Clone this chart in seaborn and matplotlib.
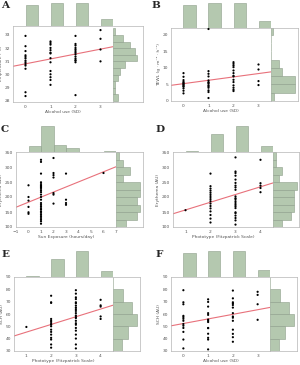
import numpy as np
import pandas as pd
import matplotlib
matplotlib.use("Agg")
import matplotlib.pyplot as plt
import seaborn as sns

# ---------------- data ----------------
# A: Temperature (°C) by alcohol use (SD)
a_alc0 = [32.93, 32.15, 31.78, 31.46, 31.34, 31.22, 31.05, 30.93, 30.80, 30.68, 30.44, 28.66, 28.37]
a_alc1 = [32.51, 32.39, 32.27, 32.02, 31.85, 31.66, 31.60, 31.24, 30.93, 30.27, 30.02, 29.80, 29.59, 29.22]
a_alc2 = [32.93, 32.32, 32.20, 32.02, 31.90, 31.78, 31.66, 31.54, 31.37, 31.22, 31.10, 31.05, 30.93, 28.44]
a_alc3 = [33.37, 32.71, 31.90, 31.00]

# B: TEWL by alcohol use (SD)
b_alc0 = [8.4, 7.3, 6.3, 5.8, 5.5, 5.3, 5.0, 4.8, 4.5, 4.3, 3.8, 3.1, 2.3]
b_alc1 = [21.7, 9.0, 8.2, 7.4, 6.2, 5.7, 5.5, 5.2, 4.7, 4.4, 4.0, 3.2, 2.7, 0.9]
b_alc2 = [11.7, 11.2, 10.7, 10.2, 9.2, 8.4, 7.6, 7.4, 6.4, 5.7, 4.7, 4.0, 3.4, 3.0]
b_alc3 = [11.0, 9.5, 6.0, 4.8]

# C: Erythema (AU) by sun exposure (hours/day)
c_sun0 = [239, 200, 188, 167, 149, 144]
c_sun1 = [324, 317, 278, 249, 243, 238, 235, 232, 227, 221, 216, 208, 200, 191,
          180, 174, 169, 163, 158, 152, 147, 141, 136, 130, 124, 119, 111]
c_sun2 = [330, 280, 273, 265, 213, 208, 178]
c_sun3 = [278, 191, 180, 174]
c_sun6 = [280]

# D: Erythema (AU) by phototype
d_pt1 = [156]
d_pt2 = [278, 236, 228, 221, 214, 207, 200, 193, 186, 178, 170, 162, 152, 140, 128, 115]
d_pt3 = [332, 285, 280, 271, 258, 247, 238, 232, 224, 202, 196, 193, 186, 180, 174,
         169, 163, 149, 146, 138, 130, 122, 108]
d_pt4 = [324, 246, 238, 230, 216]

# E: SCH (AU) by phototype
e_pt1 = [49.5]
e_pt2 = [74.8, 69.5, 69.0, 56.0, 54.5, 53.5, 52.0, 51.3, 50.0, 47.3, 45.5, 43.3, 40.7, 39.3, 35.3, 32.7]
e_pt3 = [79.3, 76.5, 73.5, 72.1, 69.5, 68.7, 66.8, 65.2, 63.9, 62.5, 60.7, 58.8, 57.5, 56.7,
         54.5, 52.5, 51.3, 48.7, 46.5, 43.3, 40.1, 35.3, 32.1]
e_pt4 = [71.5, 67.0, 66.0, 58.0, 56.0]

# F: SCH (AU) by alcohol use (SD)
f_alc0 = [79.3, 69.5, 67.9, 58.5, 57.5, 56.1, 54.5, 51.9, 50.5, 48.7, 45.5, 39.3, 32.1]
f_alc1 = [71.9, 69.8, 66.0, 60.7, 59.3, 55.5, 54.5, 53.5, 48.7, 48.5, 44.0, 40.7, 39.3, 31.3]
f_alc2 = [79.0, 72.7, 69.5, 68.5, 67.3, 65.2, 60.7, 58.0, 57.0, 54.5, 47.3, 43.9, 41.2, 37.5]
f_alc3 = [78.0, 75.5, 67.9, 55.3]

# ---------------- style ----------------
sns.set_style("white")
plt.rcParams["font.family"] = ["DejaVu Sans"]

W, H = 300, 365
BAR = "#b4c8af"
EDGE = "#8d9e8a"
FRAME = "#b5b5b5"
TXT = "#555555"
LINE = "#e8717b"
FS = 3.2

fig = plt.figure(figsize=(W / 100, H / 100), dpi=100)


def fa(x0, y0, x1, y1):
    return [x0 / W, 1 - y1 / H, (x1 - x0) / W, (y1 - y0) / H]


def build(groups):
    xs, ys = [], []
    for k, vals in groups.items():
        for v in vals:
            xs.append(k)
            ys.append(v)
    return pd.DataFrame({"x": xs, "y": ys})


def panel(groups, box, top_y, right_x, xlim, ylim, xticks, yticks,
          xlabel, ylabel, xbins, ybins, letter, lpos):
    df = build(groups)
    x0, y0, x1, y1 = box
    ax = fig.add_axes(fa(x0, y0, x1, y1))
    axt = fig.add_axes(fa(x0, top_y, x1, y0))
    axr = fig.add_axes(fa(x1, y0, right_x, y1))

    ax.set_xlim(xlim)
    ax.set_ylim(ylim)
    sns.regplot(data=df, x="x", y="y", ax=ax, scatter=False, ci=None,
                truncate=False, color=LINE, line_kws=dict(lw=0.8))
    sns.scatterplot(data=df, x="x", y="y", ax=ax, s=2.5, color="black",
                    edgecolor="none", linewidth=0, zorder=3)
    ax.set_xlim(xlim)
    ax.set_ylim(ylim)
    ax.set_xticks(xticks)
    ax.set_yticks(yticks)
    ax.tick_params(labelsize=FS, length=1.2, width=0.4, color=FRAME,
                   labelcolor=TXT, pad=0.8)
    ax.set_xlabel(xlabel, fontsize=FS, color=TXT, labelpad=0.8)
    ax.set_ylabel(ylabel, fontsize=FS, color=TXT, labelpad=1.0)
    for sp in ax.spines.values():
        sp.set_color(FRAME)
        sp.set_linewidth(0.5)

    # top marginal histogram
    sns.histplot(x=df["x"], bins=xbins, ax=axt, color=BAR, edgecolor=EDGE,
                 linewidth=0.4, alpha=1)
    axt.set_xlim(xlim)
    tmax = max(np.histogram(df["x"], bins=xbins)[0])
    axt.set_ylim(0, tmax * 1.08)
    axt.set_axis_off()
    axt.plot([1, 1], [0, 1], transform=axt.transAxes, color=FRAME, lw=0.5)

    # right marginal histogram
    sns.histplot(y=df["y"], bins=ybins, ax=axr, color=BAR, edgecolor=EDGE,
                 linewidth=0.4, alpha=1)
    axr.set_ylim(ylim)
    rmax = max(np.histogram(df["y"], bins=ybins)[0])
    axr.set_xlim(0, rmax * (right_x - x1) / 24.0)
    axr.set_xticks([])
    axr.set_yticks([])
    axr.set_xlabel("")
    axr.set_ylabel("")
    for sp in axr.spines.values():
        sp.set_color(FRAME)
        sp.set_linewidth(0.5)
    axr.spines["left"].set_visible(False)

    fig.text(lpos[0] / W, 1 - lpos[1] / H, letter, fontsize=7.5,
             fontweight="bold", family="DejaVu Serif", va="top", ha="left")


panel({0: a_alc0, 1: a_alc1, 2: a_alc2, 3: a_alc3},
      (13, 26, 113, 102), 1, 143, (-0.5, 3.5), (27.92, 33.68),
      [0, 1, 2, 3], [28, 29, 30, 31, 32, 33],
      "Alcohol use (SD)", "Temperature (°C)",
      [0, 0.5, 1, 1.5, 2, 2.5, 3, 3.5],
      np.arange(28, 34.0, 0.5), "A", (1, 0.5))

panel({0: b_alc0, 1: b_alc1, 2: b_alc2, 3: b_alc3},
      (171, 28, 271, 101), 1, 298, (-0.5, 3.5), (0, 22),
      [0, 1, 2, 3], [0, 5, 10, 15, 20],
      "Alcohol use (SD)", "TEWL (g · m⁻² · h⁻¹)",
      [0, 0.5, 1, 1.5, 2, 2.5, 3, 3.5],
      np.arange(0, 25, 2.5), "B", (151, 0.5))

panel({0: c_sun0, 1: c_sun1, 2: c_sun2, 3: c_sun3, 6: c_sun6},
      (16, 152, 116, 227), 124, 143, (-1, 7), (100, 350),
      [-1, 0, 1, 2, 3, 4, 5, 6, 7], [100, 150, 200, 250, 300, 350],
      "Sun Exposure (hours/day)", "Erythema (AU)",
      [0, 1, 2, 3, 4, 5, 6, 7],
      np.arange(100, 375, 25), "C", (1, 125))

panel({1: d_pt1, 2: d_pt2, 3: d_pt3, 4: d_pt4},
      (173, 152, 273, 227), 124, 299, (0.5, 4.5), (100, 350),
      [1, 2, 3, 4], [100, 150, 200, 250, 300, 350],
      "Phototype (Fitzpatrick Scale)", "Erythema (AU)",
      [1, 1.5, 2, 2.5, 3, 3.5, 4, 4.5],
      np.arange(100, 375, 25), "D", (155, 125))

panel({1: e_pt1, 2: e_pt2, 3: e_pt3, 4: e_pt4},
      (14, 277, 113, 351), 249, 140, (0.5, 4.5), (30, 90),
      [1, 2, 3, 4], [30, 40, 50, 60, 70, 80, 90],
      "Phototype (Fitzpatrick Scale)", "SCH (AU)",
      [1, 1.5, 2, 2.5, 3, 3.5, 4, 4.5],
      np.arange(30, 100, 10), "E", (1, 250))

panel({0: f_alc0, 1: f_alc1, 2: f_alc2, 3: f_alc3},
      (171, 277, 270, 351), 249, 297, (-0.5, 3.5), (30, 90),
      [0, 1, 2, 3], [30, 40, 50, 60, 70, 80, 90],
      "Alcohol use (SD)", "SCH (AU)",
      [0, 0.5, 1, 1.5, 2, 2.5, 3, 3.5],
      np.arange(30, 100, 10), "F", (155, 250))

fig.savefig("out.png", dpi=100, facecolor="white")
